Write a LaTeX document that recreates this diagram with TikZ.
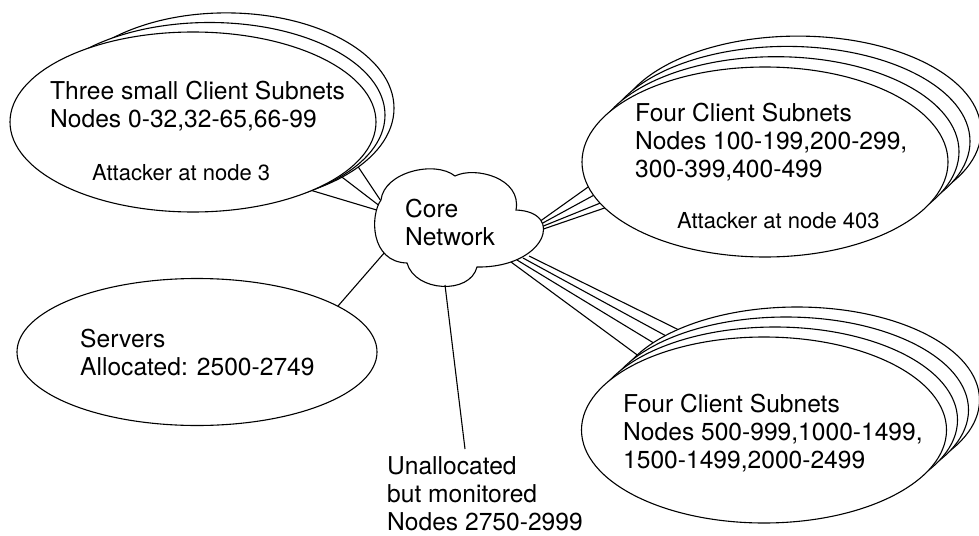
\documentclass[tikz,border=0pt]{standalone}
\usepackage{fontspec}
\setmainfont{TeX Gyre Heros}
\usetikzlibrary{shapes.geometric,calc}
\pgfdeclarelayer{bg}
\pgfsetlayers{bg,main}
\begin{document}
\begin{tikzpicture}[x=1pt,y=-1pt,
  subnet/.style={ellipse,draw,fill=white,line width=1.1pt,inner sep=0pt,outer sep=0pt},
  link/.style={line width=1.1pt},
  lbl/.style={anchor=base west,align=left,inner sep=0pt,font=\fontsize{24.6}{27.6}\selectfont},
  small/.style={anchor=base west,inner sep=0pt,font=\fontsize{22}{26}\selectfont}]
\useasboundingbox (0,0) rectangle (979,535);

% ---- top-left group: three small client subnets
\node[subnet,minimum width=335.6pt,minimum height=190.6pt] (tl2) at (226.2,108.2) {};
\node[subnet,minimum width=350.8pt,minimum height=185.2pt] (tl1) at (209.6,115.1) {};
\node[subnet,minimum width=366pt,minimum height=180pt] (tl0) at (193,122) {};

% ---- top-right group: four client subnets
\node[subnet,minimum width=366pt,minimum height=190pt] (tr3) at (798,131.1) {};
\node[subnet,minimum width=366pt,minimum height=190pt] (tr2) at (787,141.4) {};
\node[subnet,minimum width=366pt,minimum height=190pt] (tr1) at (776,151.7) {};
\node[subnet,minimum width=366pt,minimum height=190pt] (tr0) at (765,162) {};

% ---- bottom-right group: four client subnets
\node[subnet,minimum width=365pt,minimum height=186pt] (br3) at (797,400) {};
\node[subnet,minimum width=365pt,minimum height=186pt] (br2) at (786,410) {};
\node[subnet,minimum width=365pt,minimum height=186pt] (br1) at (775,420) {};
\node[subnet,minimum width=365pt,minimum height=186pt] (br0) at (764,430) {};

% ---- servers
\node[subnet,minimum width=360pt,minimum height=147pt] (srv) at (197,352) {};

% ---- core network cloud
\draw[link,fill=white] (381,200) .. controls (384,172) and (435,160) .. (455,176)
  .. controls (475,166) and (522,178) .. (516,210)
  .. controls (566,212) and (545,268) .. (477,267)
  .. controls (470,295) and (415,292) .. (407,263)
  .. controls (370,262) and (370,215) .. (381,200) -- cycle;

% connection points on the cloud
\coordinate (ctl1) at (380,211);
\coordinate (ctl2) at (381,207);
\coordinate (ctl3) at (383,204);
\coordinate (ctr1) at (539,222);
\coordinate (ctr2) at (540,224.5);
\coordinate (ctr3) at (541,227);
\coordinate (ctr4) at (542,229.5);
\coordinate (cbr1) at (511,262);
\coordinate (cbr2) at (517,260);
\coordinate (cbr3) at (523,258);
\coordinate (cbr4) at (529,256);
\coordinate (csrv) at (385,252);
\coordinate (cun) at (445,285);
% free ends
\coordinate (bE1) at (640,357);
\coordinate (bE2) at (657,345);
\coordinate (bE3) at (668,337);
\coordinate (bE4) at (677,329);
\coordinate (uend) at (465,449);

\begin{pgfonlayer}{bg}
\draw[link] (ctl1) -- (tl0.330);
\draw[link] (ctl2) -- (tl1.335);
\draw[link] (ctl3) -- (tl2.336);
\draw[link] (ctr1) -- (tr0.188);
\draw[link] (ctr2) -- (tr0.191);
\draw[link] (ctr3) -- (tr0.194);
\draw[link] (ctr4) -- (tr0.196);
\draw[link] (cbr1) -- ($(cbr1)!1.1!(bE1)$);
\draw[link] (cbr2) -- ($(cbr2)!1.1!(bE2)$);
\draw[link] (cbr3) -- ($(cbr3)!1.1!(bE3)$);
\draw[link] (cbr4) -- ($(cbr4)!1.1!(bE4)$);
\draw[link] (csrv) -- (srv.18);
\end{pgfonlayer}
\draw[link] (cun) -- (uend);

% ---- texts (base anchor = baseline of the last line)
\node[lbl] (core) at (405,245) {Core\\Network};
\node[lbl] (tlt) at (50,127) {Three small Client Subnets\\Nodes 0-32,32-65,66-99};
\node[small] (tla) at (92,180) {Attacker at node 3};
\node[lbl] (trt) at (635,177) {Four Client Subnets\\Nodes 100-199,200-299,\\300-399,400-499};
\node[small] (tra) at (677,228) {Attacker at node 403};
\node[lbl] (brt) at (623,468) {Four Client Subnets\\Nodes 500-999,1000-1499,\\1500-1499,2000-2499};
\node[lbl] (srvt) at (80,375) {Servers\\Allocated: 2500-2749};
\node[lbl] (unt) at (387,530) {Unallocated\\but monitored\\Nodes 2750-2999};
\end{tikzpicture}
\end{document}
